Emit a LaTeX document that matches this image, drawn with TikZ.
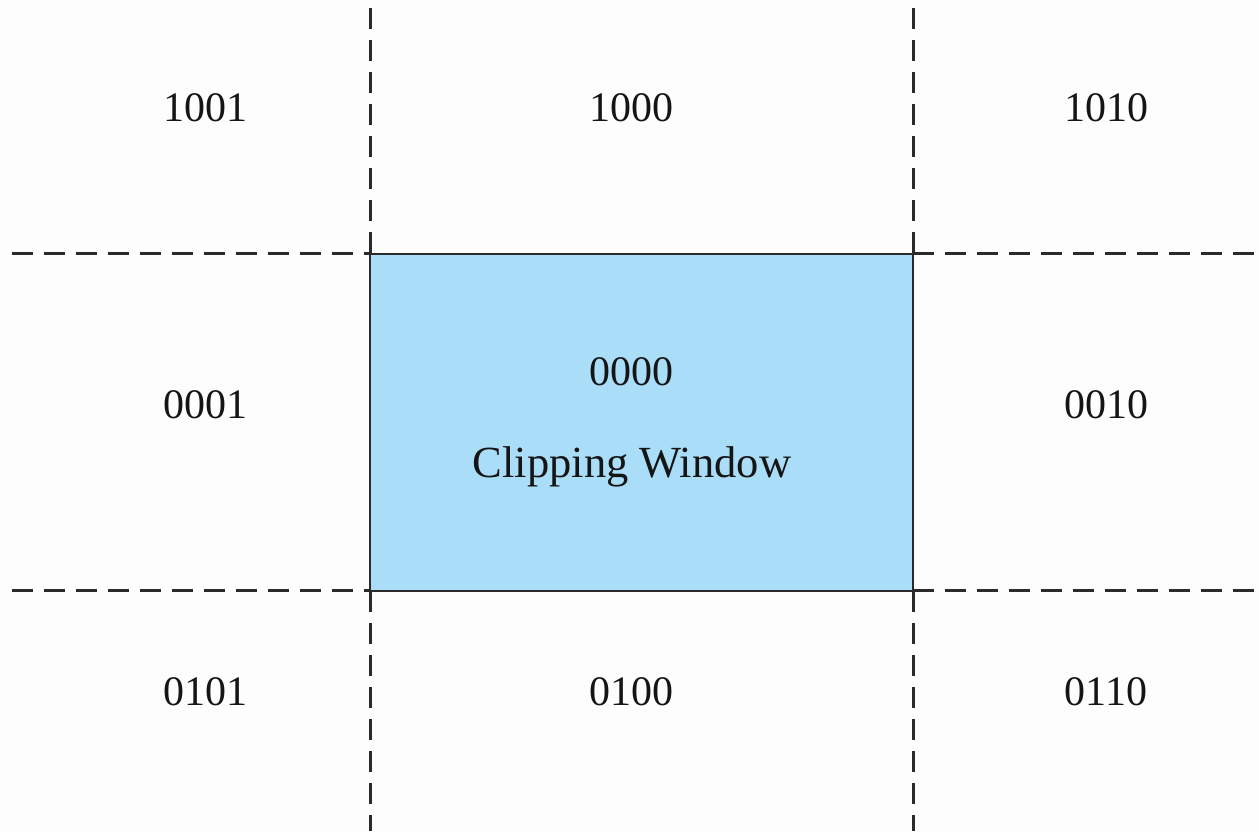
\documentclass[tikz,border=0pt]{standalone}
\usepackage{fontspec}
\setmainfont{Liberation Serif}
\definecolor{bgc}{HTML}{FDFDFD}
\definecolor{winblue}{RGB}{170,222,248}
\definecolor{ink}{HTML}{151515}
\definecolor{lineink}{HTML}{2A2A2A}
\begin{document}
\begin{tikzpicture}[x=1pt,y=1pt,
  code/.style={font=\fontsize{42}{42}\selectfont, text=ink, inner sep=0pt},
  divider/.style={draw=lineink, line width=3pt, dash pattern=on 21pt off 11pt},
  winbox/.style={draw=lineink, line width=2.6pt, fill=winblue}]
\fill[bgc] (0,0) rectangle (1259,831);
\useasboundingbox (0,0) rectangle (1259,831);
% window corners
\coordinate (wl) at (370,240);
\coordinate (wr) at (913,577);
\draw[winbox] (wl) rectangle (wr);
% divider end points
\coordinate (vlt) at (370,823);
\coordinate (vrt) at (913,823);
\coordinate (vlb) at (370,0);
\coordinate (vrb) at (913,0);
\coordinate (hlt) at (12,577);
\coordinate (hrt) at (1259,577);
\coordinate (hlb) at (12,240);
\coordinate (hrb) at (1259,240);
\coordinate (wtl) at (370,577);
\coordinate (wtr) at (913,577);
\coordinate (wbl) at (370,240);
\coordinate (wbr) at (913,240);
\draw[divider] (vlt) -- (wtl);
\draw[divider] (vrt) -- (wtr);
\draw[divider] (wbl) -- (vlb);
\draw[divider] (wbr) -- (vrb);
\draw[divider] (hlt) -- (wtl);
\draw[divider] (wtr) -- (hrt);
\draw[divider] (hlb) -- (wbl);
\draw[divider] (wbr) -- (hrb);
% labels
\node[code] (n1001) at (205,723) {1001};
\node[code] (n1000) at (631,723) {1000};
\node[code] (n1010) at (1106,723) {1010};
\node[code] (n0001) at (205,426) {0001};
\node[code] (n0000) at (631,459) {0000};
\node[code, font=\fontsize{44.5}{44.5}\selectfont] (clip) at (632,364) {Clipping Window};
\node[code] (n0010) at (1106,426) {0010};
\node[code] (n0101) at (205,139) {0101};
\node[code] (n0100) at (631,139) {0100};
\node[code] (n0110) at (1106,139) {0110};
\end{tikzpicture}
\end{document}
